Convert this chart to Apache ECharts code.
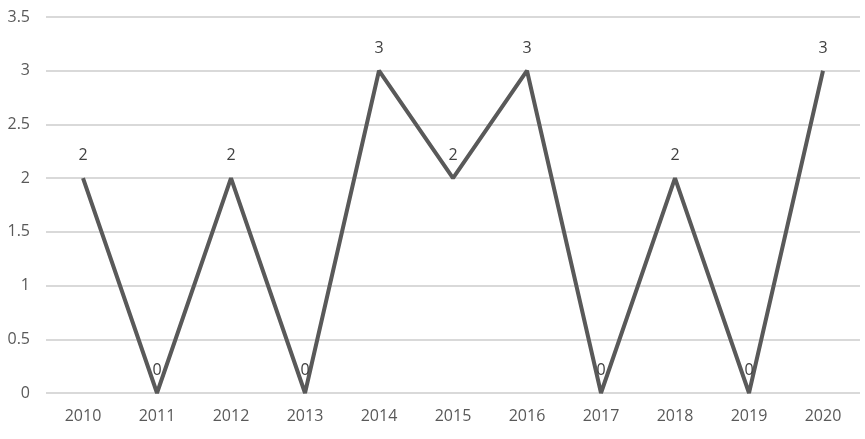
<!DOCTYPE html>
<html>
<head>
<meta charset="utf-8">
<script src="https://cdn.jsdelivr.net/npm/echarts@6/dist/echarts.min.js"></script>
<style>
  html, body { margin: 0; padding: 0; background: #fff; }
  #chart { width: 865px; height: 439px; }
</style>
</head>
<body>
<div id="chart"></div>
<script>
const years = ['2010', '2011', '2012', '2013', '2014', '2015', '2016', '2017', '2018', '2019', '2020']
const counts = [2, 0, 2, 0, 3, 2, 3, 0, 2, 0, 3]
const yTicks = { min: 0, max: 3.5, interval: 0.5 }

const chart = echarts.init(document.getElementById('chart'), null, { renderer: 'canvas' })
const font = '"Open Sans", "Liberation Sans", sans-serif'

chart.setOption({
  animation: false,
  grid: { left: 46, right: 5, top: 17, bottom: 46 },
  xAxis: {
    type: 'category', data: years, boundaryGap: true,
    axisLine: { show: false }, axisTick: { show: false },
    axisLabel: { color: '#595959', fontSize: 16, fontFamily: font, margin: 15 },
  },
  yAxis: {
    type: 'value', min: yTicks.min, max: yTicks.max, interval: yTicks.interval,
    axisLine: { show: false }, axisTick: { show: false },
    axisLabel: { color: '#595959', fontSize: 16, fontFamily: font, margin: 16 },
    splitLine: { lineStyle: { color: '#d9d9d9', width: 2 } },
  },
  series: [{
    type: 'line', data: counts,
    symbol: 'circle', symbolSize: 1,
    itemStyle: { color: 'rgba(0,0,0,0)' },
    lineStyle: { color: '#595959', width: 4 },
    label: { show: true, position: 'top', distance: 14, color: '#404040', fontSize: 16, fontFamily: font },
  }],
})
</script>
</body>
</html>
